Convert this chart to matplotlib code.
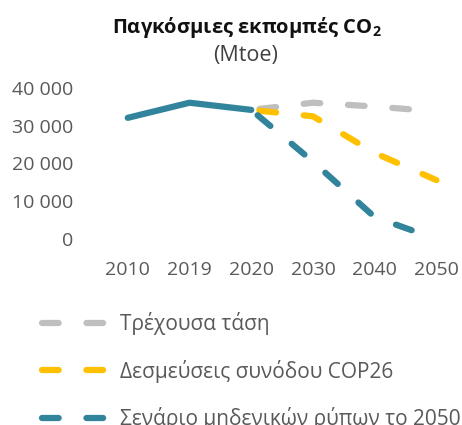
import matplotlib
matplotlib.use("Agg")
import matplotlib.pyplot as plt
from matplotlib.lines import Line2D

plt.rcParams["font.family"] = ["Open Sans", "DejaVu Sans"]
plt.rcParams["lines.scale_dashes"] = False
plt.rcParams["mathtext.fontset"] = "custom"
plt.rcParams["mathtext.rm"] = "Open Sans"
plt.rcParams["mathtext.bf"] = "Open Sans:bold"

years = ["2010", "2019", "2020", "2030", "2040", "2050"]
history = [32100, 36100, 34200]
current_trend = [34200, 36100, 35100, 33800]
cop26 = [34200, 32500, 22800, 15600]
net_zero = [34200, 20500, 5800, 0]
y_ticks = [0, 10000, 20000, 30000, 40000]
y_labels = ["0", "10 000", "20 000", "30 000", "40 000"]

labels = ["Τρέχουσα τάση", "Δεσμεύσεις συνόδου COP26", "Σενάριο μηδενικών ρύπων το 2050"]
colors = ["#BFBFBF", "#FFC000", "#31849B"]

fig = plt.figure(figsize=(4.62, 4.25), dpi=100)
ax = fig.add_axes([100 / 462, (425 - 239) / 425, 358 / 462, 151 / 425])

x_hist = list(range(len(history)))
x_proj = list(range(len(history) - 1, len(years)))

lw = 4.5
for series, color in zip([current_trend, cop26, net_zero], colors):
    ax.plot(x_proj, series, color=color, lw=lw, linestyle=(26, (12, 20)),
            dash_capstyle="round", clip_on=False)
ax.plot(x_hist, history, color=colors[2], lw=lw, solid_capstyle="round",
        solid_joinstyle="round", clip_on=False)

ax.set_xlim(-0.45, 5.35)
ax.set_ylim(0, 40000)
ax.set_xticks(range(len(years)))
ax.set_xticklabels(years)
ax.set_yticks(y_ticks)
ax.set_yticklabels(y_labels)
ax.tick_params(length=0, labelsize=14, labelcolor="#595959")
ax.tick_params(axis="x", pad=16)
ax.tick_params(axis="y", pad=19)
for s in ax.spines.values():
    s.set_visible(False)

fig.text(0.535, 1 - 27 / 425, r"Παγκόσμιες εκπομπές CO$_\mathbf{2}$", ha="center", va="center",
         fontsize=14.5, fontweight="bold", color="#111111")
fig.text(0.532, 1 - 55 / 425, "(Mtoe)", ha="center", va="center",
         fontsize=15.5, color="#404040")

handles = [Line2D([], [], color=c, lw=lw, dashes=(12, 20), dash_capstyle="round")
           for c in colors]
fig.legend(handles=handles, labels=labels, loc="upper left",
           bbox_to_anchor=(42 / 462, 1 - 312 / 425),
           frameon=False, fontsize=15, labelcolor="#595959", handlelength=3.58,
           handletextpad=0.18, labelspacing=1.18, borderaxespad=0, borderpad=0)

fig.savefig("out.png", dpi=100)
